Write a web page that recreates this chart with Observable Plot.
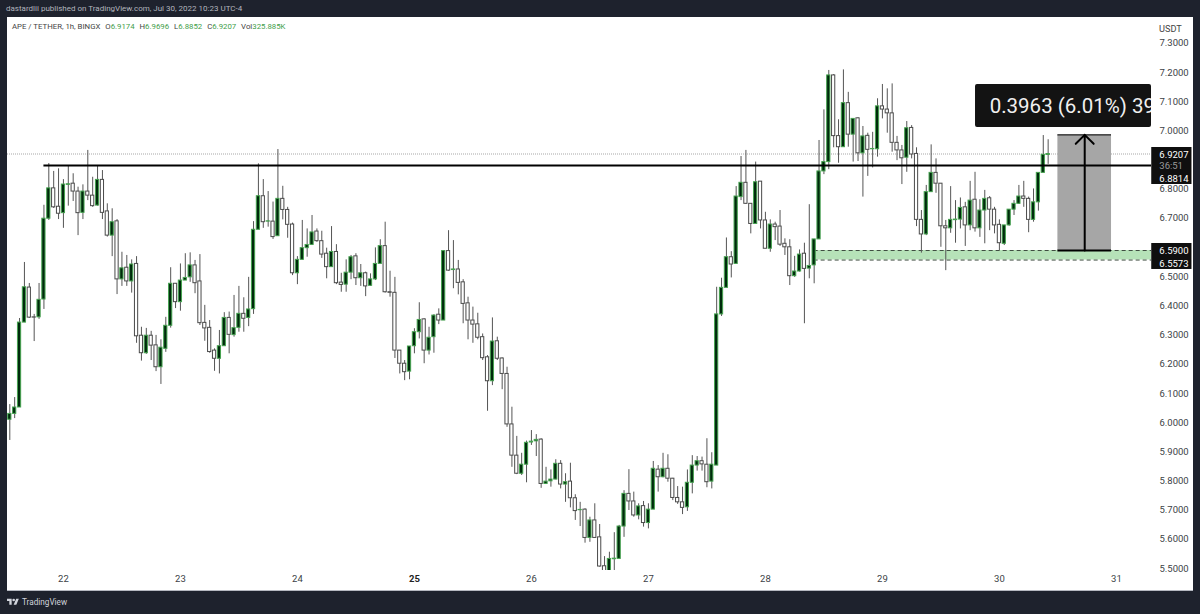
<!DOCTYPE html>
<html>
<head>
<meta charset="utf-8">
<script src="https://cdn.jsdelivr.net/npm/d3@7"></script>
<script src="https://cdn.jsdelivr.net/npm/@observablehq/plot@0.6"></script>
<style>
  html,body{margin:0;padding:0;background:#1e222d;width:1200px;height:614px;overflow:hidden;font-family:Roboto,"Open Sans",sans-serif}
  #top{height:17px;line-height:18px;padding-left:6px;color:#b2b5be;font-size:8px;white-space:nowrap;box-sizing:border-box}
  #pane{position:relative;margin-left:7px;width:1186px;height:573px;background:#fff;border-bottom:1px solid #b5b8c0;box-sizing:content-box}
  #pane svg{display:block}
  #legend{position:absolute;left:5px;top:4px;font-size:7.8px;color:#444;white-space:nowrap;line-height:12px}
  #legend b{font-weight:400;color:#3f9e4a}
  #legend span{margin-left:3px}
  #unit{position:absolute;left:1152px;top:6px;font-size:9.2px;color:#444}
  #foot{position:absolute;left:7px;top:595px;color:#d1d4dc;font-size:8.2px;display:flex;align-items:center;gap:3px;line-height:14px}
</style>
</head>
<body>
<div id="top">dastardlii published on TradingView.com, Jul 30, 2022 10:23 UTC-4</div>
<div id="pane">
  <div id="chart"></div>
  <div id="legend">APE / TETHER, 1h, BINGX <span>O<b>6.9174</b></span> <span>H<b>6.9696</b></span> <span>L<b>6.8852</b></span> <span>C<b>6.9207</b></span> <span>Vol<b>325.885K</b></span></div>
  <div id="unit">USDT</div>
</div>
<div id="foot"><svg width="12" height="10" viewBox="0 0 36 28"><path fill="#d1d4dc" d="M14 22H7V11H0V4h14v18zM28 22h-8l7.5-18h8L28 22z"/><circle fill="#d1d4dc" cx="20" cy="8" r="4"/></svg><span>TradingView</span></div>
<script>
// Hourly APE/USDT candles (hour index 0 = Jul 21, 13:00 of the chart)
const open = [
6.010,6.030,6.052,6.343,6.463,6.361,6.361,6.422,6.699,6.803,
6.740,6.718,6.815,6.819,6.792,6.719,6.792,6.778,6.744,6.832,
6.724,6.641,6.690,6.491,6.531,6.484,6.544,6.298,6.238,6.298,
6.265,6.190,6.253,6.332,6.476,6.413,6.487,6.498,6.539,6.484,
6.342,6.325,6.247,6.219,6.262,6.359,6.300,6.325,6.373,6.359,
6.389,6.661,6.776,6.689,6.689,6.639,6.767,6.729,6.679,6.512,
6.558,6.598,6.609,6.655,6.622,6.579,6.533,6.585,6.480,6.473,
6.514,6.570,6.495,6.512,6.469,6.491,6.544,6.605,6.447,6.445,
6.247,6.202,6.175,6.262,6.310,6.354,6.247,6.293,6.370,6.350,
6.588,6.523,6.525,6.481,6.409,6.350,6.337,6.293,6.224,6.142,
6.279,6.220,6.167,5.994,5.887,5.825,5.856,5.932,5.936,5.942,
5.790,5.799,5.805,5.859,5.788,5.798,5.741,5.700,5.702,5.605,
5.665,5.607,5.508,5.487,5.532,5.533,5.644,5.756,5.730,5.682,
5.714,5.656,5.702,5.839,5.813,5.842,5.808,5.742,5.727,5.710,
5.794,5.853,5.868,5.856,5.798,5.853,6.371,6.462,6.567,6.544,
6.773,6.822,6.750,6.681,6.826,6.693,6.596,6.679,6.672,6.613,
6.601,6.502,6.518,6.579,6.528,6.539,6.628,6.861,6.893,7.190,
6.982,6.944,7.095,6.987,7.043,6.923,6.983,6.937,6.937,7.084,
7.073,7.060,6.959,6.933,6.908,7.010,6.921,6.695,6.645,6.790,
6.856,6.819,6.673,6.666,6.694,6.696,6.738,6.676,6.764,6.666,
6.727,6.769,6.730,6.678,6.613,6.676,6.730,6.750,6.775,6.767,
6.695,6.755,6.856,6.9174];
const high = [
6.062,6.086,6.357,6.549,6.477,6.371,6.477,6.745,6.888,6.861,
6.870,6.833,6.881,6.853,6.807,6.815,6.933,6.841,6.881,6.864,
6.750,6.733,6.696,6.584,6.573,6.558,6.569,6.327,6.323,6.313,
6.299,6.284,6.361,6.531,6.477,6.544,6.579,6.582,6.556,6.576,
6.402,6.350,6.253,6.316,6.377,6.379,6.436,6.467,6.428,6.498,
6.689,6.887,6.833,6.792,6.756,6.936,6.810,6.738,6.684,6.569,
6.693,6.664,6.710,6.664,6.656,6.598,6.672,6.610,6.512,6.558,
6.573,6.579,6.542,6.516,6.510,6.599,6.627,6.687,6.519,6.498,
6.247,6.213,6.261,6.322,6.411,6.356,6.327,6.370,6.390,6.590,
6.658,6.624,6.556,6.490,6.430,6.396,6.375,6.304,6.230,6.359,
6.293,6.222,6.190,6.053,5.953,5.895,5.937,5.973,5.959,5.945,
5.847,5.838,5.873,5.870,5.825,5.861,5.753,5.727,5.705,5.676,
5.722,5.651,5.541,5.556,5.623,5.648,5.767,5.839,5.762,5.722,
5.730,5.722,5.867,5.853,5.895,5.890,5.809,5.781,5.779,5.838,
5.887,5.884,5.882,5.945,5.897,6.464,6.495,6.633,6.586,6.809,
6.912,6.933,6.750,6.893,6.826,6.721,6.695,6.687,6.727,6.630,
6.627,6.570,6.592,6.615,6.747,6.628,6.967,7.072,7.207,7.193,
7.038,7.209,7.132,7.041,7.045,7.015,6.992,6.995,7.110,7.159,
7.144,7.161,6.981,6.950,7.032,7.018,6.942,6.727,6.813,6.952,
6.904,6.819,6.693,6.809,6.761,6.770,6.755,6.827,6.858,6.764,
6.796,6.775,6.738,6.695,6.676,6.730,6.761,6.813,6.827,6.773,
6.801,6.856,6.984,6.9696];
const low = [
5.939,6.014,6.052,6.343,6.357,6.278,6.354,6.388,6.693,6.734,
6.696,6.666,6.742,6.758,6.641,6.696,6.761,6.738,6.742,6.696,
6.636,6.569,6.439,6.467,6.467,6.444,6.272,6.211,6.234,6.213,
6.175,6.131,6.241,6.324,6.391,6.382,6.487,6.481,6.442,6.333,
6.279,6.238,6.176,6.167,6.262,6.236,6.293,6.310,6.310,6.329,
6.371,6.661,6.666,6.670,6.628,6.639,6.695,6.632,6.504,6.473,
6.556,6.567,6.607,6.618,6.563,6.493,6.533,6.473,6.447,6.447,
6.490,6.470,6.467,6.432,6.467,6.487,6.544,6.444,6.430,6.220,
6.167,6.144,6.147,6.236,6.287,6.202,6.232,6.238,6.336,6.350,
6.519,6.459,6.438,6.339,6.284,6.272,6.284,6.213,6.039,6.127,
6.213,6.113,5.984,5.847,5.822,5.819,5.794,5.922,5.884,5.775,
5.788,5.779,5.804,5.773,5.727,5.708,5.665,5.644,5.587,5.590,
5.605,5.505,5.487,5.487,5.493,5.533,5.607,5.699,5.676,5.667,
5.642,5.636,5.702,5.762,5.811,5.796,5.733,5.720,5.685,5.696,
5.756,5.834,5.834,5.777,5.773,5.853,6.364,6.462,6.496,6.544,
6.761,6.748,6.647,6.681,6.664,6.596,6.584,6.624,6.604,6.573,
6.470,6.498,6.516,6.339,6.493,6.476,6.628,6.850,6.867,6.942,
6.889,6.944,6.944,6.893,6.895,6.773,6.844,6.873,6.910,7.041,
6.992,6.927,6.898,6.816,6.858,6.904,6.672,6.581,6.641,6.790,
6.786,6.601,6.521,6.649,6.615,6.664,6.604,6.658,6.653,6.635,
6.613,6.658,6.647,6.590,6.607,6.673,6.710,6.748,6.738,6.651,
6.687,6.725,6.856,6.8852];
const close = [
6.030,6.052,6.343,6.464,6.360,6.360,6.421,6.699,6.803,6.738,
6.716,6.816,6.817,6.792,6.718,6.792,6.778,6.742,6.832,6.719,
6.641,6.687,6.491,6.529,6.484,6.542,6.296,6.238,6.298,6.264,
6.190,6.257,6.332,6.476,6.413,6.487,6.496,6.539,6.478,6.341,
6.323,6.242,6.219,6.262,6.359,6.301,6.324,6.373,6.356,6.388,
6.661,6.776,6.687,6.690,6.636,6.767,6.729,6.678,6.512,6.558,
6.598,6.609,6.652,6.622,6.576,6.533,6.585,6.478,6.472,6.514,
6.567,6.495,6.512,6.467,6.491,6.544,6.605,6.447,6.445,6.247,
6.202,6.173,6.261,6.310,6.352,6.247,6.291,6.367,6.350,6.588,
6.521,6.525,6.479,6.407,6.350,6.336,6.291,6.221,6.142,6.278,
6.219,6.167,5.994,5.887,5.825,5.856,5.931,5.935,5.941,5.790,
5.798,5.805,5.859,5.788,5.796,5.741,5.697,5.701,5.605,5.665,
5.605,5.507,5.487,5.533,5.534,5.644,5.756,5.730,5.682,5.713,
5.656,5.702,5.842,5.813,5.842,5.808,5.742,5.727,5.708,5.794,
5.853,5.868,5.857,5.796,5.856,6.371,6.462,6.567,6.542,6.775,
6.822,6.750,6.681,6.824,6.693,6.596,6.679,6.670,6.610,6.601,
6.502,6.518,6.576,6.527,6.537,6.628,6.861,6.893,7.190,6.982,
6.944,7.095,6.987,7.041,6.923,6.981,6.935,6.938,7.084,7.073,
7.060,6.959,6.933,6.906,7.009,6.919,6.695,6.645,6.790,6.856,
6.819,6.673,6.666,6.695,6.696,6.736,6.676,6.761,6.666,6.727,
6.767,6.730,6.676,6.615,6.676,6.730,6.750,6.775,6.767,6.695,
6.755,6.856,6.918,6.9207];

const dayLabels = [22,23,24,25,26,27,28,29,30,31];
const boldDay = 25;
const firstDayIndex = 11, hoursPerDay = 24;
const priceTicks = [7.3,7.2,7.1,7.0,6.8,6.7,6.5,6.4,6.3,6.2,6.1,6.0,5.9,5.8,5.7,5.6,5.5];
const lastPrice = 6.9207, resistance = 6.8814, zoneTop = 6.5900, zoneBottom = 6.5573;
const measureTop = 6.9863;
const measureText = "0.3963 (6.01%) 39", countdown = "36:51";

const xDomain = [-0.472, 234.2], yDomain = [5.4934, 7.3885];
const lastBar = xDomain[1];
const resistanceStart = 7, zoneStart = 165, measureStart = 215, measureEnd = 226;
const calloutStart = 198.1, calloutBottom = 7.0115, calloutTop = 7.1589, calloutMid = 7.085, calloutTextAt = 201.0;
const tagStart = xDomain[1] + 0.05, tagEnd = 242.5, tagTextAt = 235.8;
const tagHighTop = 6.943, tagHighBottom = 6.8162, tagLowTop = 6.614, tagLowBottom = 6.525;

const candles = open.map((o,i)=>({i,open:o,high:high[i],low:low[i],close:close[i],up:close[i]>=o}));
const dayTick = d => firstDayIndex + (d-dayLabels[0])*hoursPerDay;
const dayName = Object.fromEntries(dayLabels.map(d=>[dayTick(d),d]));
const halfBody = 0.33;

const axisColor = "#3c3f46";
const labelSize = 9.5;
const chart = Plot.plot({
  width:1186, height:573,
  marginLeft:0, marginTop:0, marginRight:42, marginBottom:20,
  x:{domain:xDomain, axis:null},
  y:{domain:yDomain, axis:null},
  style:{background:"transparent",fontFamily:"Roboto, 'Open Sans', sans-serif"},
  marks:[
    // zone
    Plot.rect([0],{x1:zoneStart,x2:lastBar,y1:zoneBottom,y2:zoneTop,fill:"#b6e2b8"}),
    Plot.ruleY([zoneTop,zoneBottom],{x1:zoneStart,x2:lastBar,stroke:"#3f4d41",strokeWidth:1,strokeDasharray:"4,3"}),
    // last price
    Plot.ruleY([lastPrice],{x1:xDomain[0],x2:lastBar,stroke:"#a8a8a8",strokeWidth:1.2,strokeDasharray:"1,1"}),
    // measure box
    Plot.rect([0],{x1:measureStart,x2:measureEnd,y1:zoneTop,y2:measureTop,fill:"#a6a6a6"}),
    // candles
    Plot.ruleX(candles,{x:"i",y1:"low",y2:"high",stroke:"#555",strokeWidth:1,clip:true}),
    Plot.rect(candles,{filter:d=>d.up,x1:d=>d.i-halfBody,x2:d=>d.i+halfBody,y1:"open",y2:"close",fill:"#002b0c",stroke:"#46a350",strokeWidth:1,clip:true}),
    Plot.rect(candles,{filter:d=>!d.up,x1:d=>d.i-halfBody,x2:d=>d.i+halfBody,y1:"open",y2:"close",fill:"#fff",stroke:"#4a4a4a",strokeWidth:1,clip:true}),
    // resistance
    Plot.ruleY([resistance],{x1:resistanceStart,x2:lastBar,stroke:"#000",strokeWidth:2}),
    // measure lines and arrow
    Plot.ruleY([measureTop],{x1:measureStart,x2:measureEnd,stroke:"#222",strokeWidth:1.2}),
    Plot.ruleY([zoneTop],{x1:measureStart,x2:measureEnd,stroke:"#000",strokeWidth:2}),
    Plot.arrow([0],{x1:(measureStart+measureEnd)/2,x2:(measureStart+measureEnd)/2,y1:zoneTop,y2:measureTop,stroke:"#000",strokeWidth:2,headLength:9.5,headAngle:90,bend:0}),
    // callout
    Plot.rect([0],{x1:calloutStart,x2:lastBar,y1:calloutBottom,y2:calloutTop,fill:"#131313",rx:2,clip:true}),
    Plot.text([measureText],{x:calloutTextAt,y:calloutMid,text:d=>d,fill:"#f0f0f0",fontSize:20.5,textAnchor:"start",clip:true}),
    // axes
    Plot.axisY({anchor:"right",ticks:priceTicks,tickSize:0,tickPadding:8,tickFormat:d3.format(".4f"),color:axisColor,fontSize:labelSize,label:null}),
    Plot.axisX({anchor:"bottom",ticks:dayLabels.filter(d=>d!==boldDay).map(dayTick),tickSize:0,tickPadding:5,tickFormat:d=>dayName[d],color:axisColor,fontSize:labelSize,label:null}),
    Plot.axisX({anchor:"bottom",ticks:[dayTick(boldDay)],tickSize:0,tickPadding:5,tickFormat:d=>dayName[d],color:"#222",fontSize:labelSize,fontWeight:700,label:null}),
    // price tags
    Plot.rect([0],{x1:tagStart,x2:tagEnd,y1:tagHighBottom,y2:tagHighTop,fill:"#0f0f0f"}),
    Plot.rect([0],{x1:tagStart,x2:tagEnd,y1:tagLowBottom,y2:tagLowTop,fill:"#0f0f0f"}),
    Plot.text([lastPrice],{x:tagTextAt,y:d=>d,dy:1,text:d=>d.toFixed(4),fill:"#fff",fontSize:labelSize,textAnchor:"start"}),
    Plot.text([resistance],{x:tagTextAt,y:d=>d,dy:13,text:d=>d.toFixed(4),fill:"#fff",fontSize:labelSize,textAnchor:"start"}),
    Plot.text([countdown],{x:tagTextAt,y:resistance,text:d=>d,fill:"#9a9a9a",fontSize:labelSize,textAnchor:"start"}),
    Plot.text([zoneTop],{x:tagTextAt,y:d=>d,text:d=>d.toFixed(4),fill:"#fff",fontSize:labelSize,textAnchor:"start"}),
    Plot.text([zoneBottom],{x:tagTextAt,y:d=>d,dy:4,text:d=>d.toFixed(4),fill:"#fff",fontSize:labelSize,textAnchor:"start"})
  ]
});
document.getElementById("chart").appendChild(chart);
</script>
</body>
</html>
